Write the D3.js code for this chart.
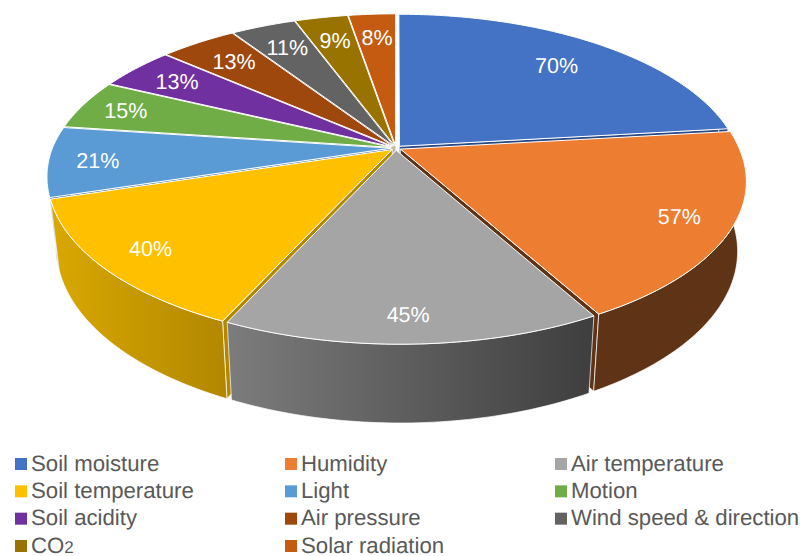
<!DOCTYPE html>
<html>
<head>
<meta charset="utf-8">
<script src="https://cdn.jsdelivr.net/npm/d3@7/dist/d3.min.js"></script>
<style>
html,body{margin:0;padding:0;background:#fff;overflow:hidden}
svg{display:block}
text{font-family:"Liberation Sans",Arial,sans-serif;text-rendering:geometricPrecision}
</style>
</head>
<body>
<svg id="chart" width="800" height="556"></svg>
<script>
// Sensor usage shares, drawn clockwise from twelve o'clock
const categories = ["Soil moisture","Humidity","Air temperature","Soil temperature","Light","Motion","Soil acidity","Air pressure","Wind speed & direction","CO2","Solar radiation"];
const shares = [70,57,45,40,21,15,13,13,11,9,8];
const sliceColors = ["#4472c4","#ed7d31","#a5a5a5","#ffc000","#5b9bd5","#70ad47","#7030a0","#9e480e","#636363","#997300","#c55a11"];
const wallColors = [["#2a4a85","#2a4a85"],["#5f3315","#5f3315"],["#7c7c7c","#3e3e3e"],["#d9a800","#b38800"],["#3a6ea0","#3a6ea0"],["#4a7530","#4a7530"],["#4a1f6b","#4a1f6b"],["#6b300a","#6b300a"],["#424242","#424242"],["#664d00","#664d00"],["#843c0c","#843c0c"]];
const labelReach = [0.77,0.855,0.87,0.85,0.86,0.86,0.83,0.80,0.80,0.80,0.80];

// Tilted-disc projection; the near half leans slightly to the right
const cx = 396, cy = 148, spreadX = 338.5, spreadY = 157, tilt = 0.185, lean = 4;
const explode = 0.015, rimShrink = 0.975, depth = 68;
const deg = Math.PI / 180;

function project(u, v, low, upright) {
  const w = 1 - tilt * v;
  let x = spreadX * u / w + (upright ? 0 : lean * Math.max(v, 0)), y = spreadY * v / w;
  if (low) { x *= rimShrink; y = y * rimShrink + depth / w; }
  return [cx + x, cy + y];
}

const svg = d3.select("#chart");
const defs = svg.append("defs");
const line = d3.line();

const arcs = d3.pie().value(d => d).sort(null)(shares).map((a, i) => {
  const mid = (a.startAngle + a.endAngle) / 2;
  return { i, a0: a.startAngle, a1: a.endAngle, mid,
           ox: explode * Math.sin(mid), oy: -explode * Math.cos(mid) };
});

function rimPoint(s, t, low) {
  return project(Math.sin(t) + s.ox, -Math.cos(t) + s.oy, low);
}
function rimAngles(a0, a1) {
  const n = Math.max(2, Math.ceil((a1 - a0) / deg));
  return d3.range(n + 1).map(k => a0 + (a1 - a0) * k / n);
}

// Back slices first so that the nearer ones paint over them
const ordered = arcs.slice().sort((p, q) => -Math.cos(p.mid) + Math.cos(q.mid));
const wallLimit = Math.acos(tilt);

ordered.forEach(s => {
  const g = svg.append("g");
  const stops = wallColors[s.i];
  const wa0 = Math.max(s.a0, wallLimit), wa1 = Math.min(s.a1, 2 * Math.PI - wallLimit);

  const gradId = "wall" + s.i;
  const xA = rimPoint(s, wa0 < wa1 ? wa1 : s.a1, false)[0];
  const xB = rimPoint(s, wa0 < wa1 ? wa0 : s.a0, false)[0];
  const grad = defs.append("linearGradient").attr("id", gradId)
    .attr("gradientUnits", "userSpaceOnUse")
    .attr("x1", Math.min(xA, xB)).attr("x2", Math.max(xA, xB)).attr("y1", 0).attr("y2", 0);
  grad.append("stop").attr("offset", 0).attr("stop-color", stops[0]);
  grad.append("stop").attr("offset", 1).attr("stop-color", stops[1]);

  // Radial faces that turn toward the viewer
  [[s.a0, -Math.PI / 2], [s.a1, Math.PI / 2]].forEach(([phi, turn]) => {
    if (-Math.cos(phi + turn) <= 0.01) return;
    const apexTop = project(s.ox, s.oy, false), apexLow = project(s.ox, s.oy, true);
    g.append("path")
      .attr("d", line([apexTop, rimPoint(s, phi, false), rimPoint(s, phi, true), apexLow]) + "Z")
      .attr("fill", stops[1]).attr("stroke", "#fff").attr("stroke-width", 0.7);
  });

  // Curved outer wall
  if (wa0 < wa1) {
    const ts = rimAngles(wa0, wa1);
    const pts = ts.map(t => rimPoint(s, t, false))
      .concat(ts.slice().reverse().map(t => rimPoint(s, t, true)));
    g.append("path").attr("d", line(pts) + "Z")
      .attr("fill", `url(#${gradId})`).attr("stroke", "#fff").attr("stroke-width", 0.7);
  }

  // Top face
  const top = [project(s.ox, s.oy, false)].concat(rimAngles(s.a0, s.a1).map(t => rimPoint(s, t, false)));
  g.append("path").attr("d", line(top) + "Z")
    .attr("fill", sliceColors[s.i]).attr("stroke", "#fff").attr("stroke-width", 1)
    .attr("stroke-linejoin", "round");
});

// Percentage labels on the slice tops
const labelPoint = s => project(labelReach[s.i] * Math.sin(s.mid) + s.ox, -labelReach[s.i] * Math.cos(s.mid) + s.oy, false, true);
svg.append("g").selectAll("text").data(arcs).join("text")
  .attr("x", s => labelPoint(s)[0] + 1)
  .attr("y", s => labelPoint(s)[1] + 8)
  .attr("text-anchor", "middle").attr("font-size", 21.5).attr("fill", "#fff")
  .text(s => shares[s.i] + "%");

// Legend, three columns read row by row
const columnX = d3.scaleOrdinal().domain([0, 1, 2]).range([15, 285, 555]);
const rowY = d3.scaleLinear().domain([0, 3]).range([470, 552]);
const entry = svg.append("g").selectAll("g").data(categories).join("g")
  .attr("transform", (d, i) => `translate(${columnX(i % 3)},${rowY(Math.floor(i / 3))})`);
entry.append("rect").attr("x", 0).attr("y", -12).attr("width", 12).attr("height", 12)
  .attr("fill", (d, i) => sliceColors[i]);
entry.append("text").attr("x", 16).attr("y", 0.5).attr("font-size", 22.2).attr("fill", "#595959")
  .each(function (d) {
    const t = d3.select(this);
    if (d === "CO2") {
      t.append("tspan").text("CO");
      t.append("tspan").attr("font-size", 17).text("2");
    } else {
      t.text(d);
    }
  });
</script>
</body>
</html>
